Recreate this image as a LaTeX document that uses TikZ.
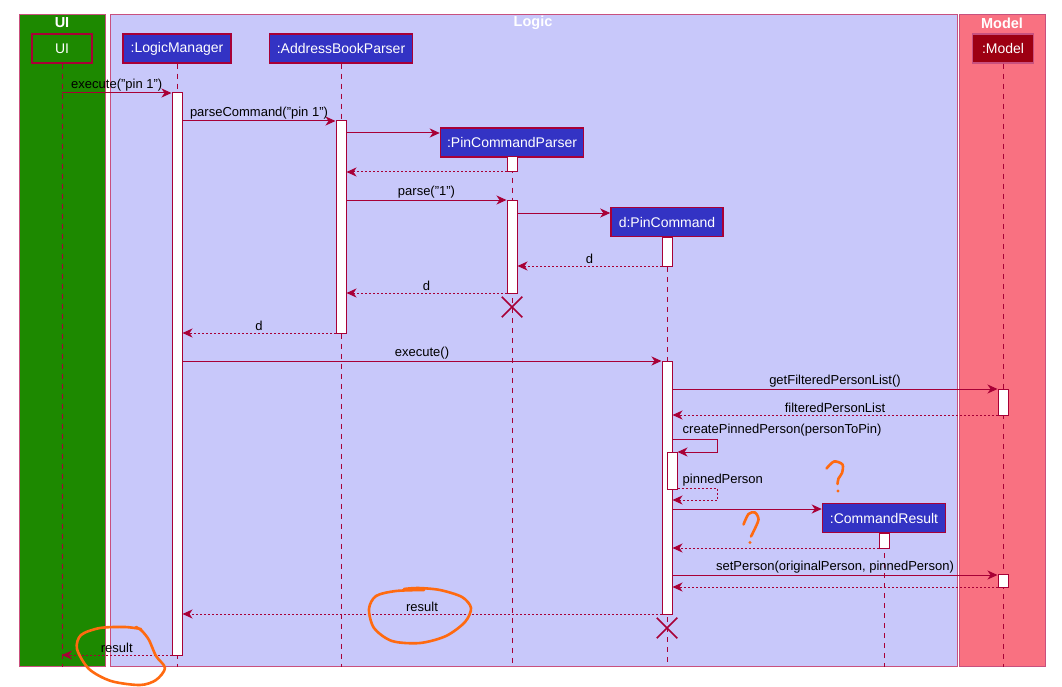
\documentclass[tikz,border=0pt]{standalone}
\usepackage{fontspec}
\setmainfont{Liberation Sans}
\usetikzlibrary{arrows.meta,shapes.misc}
\definecolor{arr}{HTML}{A80036}
\definecolor{uigreen}{HTML}{1D8900}
\definecolor{logicblue}{HTML}{3333C4}
\definecolor{logicbg}{HTML}{C8C8FA}
\definecolor{modeldark}{HTML}{9D0012}
\definecolor{modelbg}{HTML}{F97181}
\definecolor{grpborder}{HTML}{C8507E}
\definecolor{annot}{HTML}{FF6A10}
\begin{document}
\begin{tikzpicture}[x=1pt,y=-1pt,
  grp/.style={draw=grpborder,line width=1pt,inner sep=0pt},
  grptitle/.style={text=white,font=\bfseries\fontsize{14.5}{16}\selectfont,inner sep=0pt},
  part/.style={draw=arr,line width=1.5pt,text=white,font=\fontsize{14}{16}\selectfont,minimum height=29pt,inner sep=0pt},
  life/.style={draw=arr,line width=0.8pt,dash pattern=on 5pt off 5pt},
  act/.style={draw=arr,fill=white,line width=1pt,minimum width=10pt,inner sep=0pt},
  msg/.style={draw=arr,line width=1pt,-{Stealth[length=10pt,width=9pt,inset=3pt]}},
  ret/.style={msg,dash pattern=on 2pt off 2pt},
  lbl/.style={text=black,font=\fontsize{13}{15}\selectfont,inner sep=1.5pt},
  destroy/.style={cross out,draw=arr,line width=1.5pt,minimum size=19pt,inner sep=0pt},
  annotpen/.style={draw=annot,line width=2.6pt,line cap=round,line join=round}
]
\useasboundingbox (0,0) rectangle (1062,687);
\fill[white] (0,0) rectangle (1062,687);

% groups
\node[grp,fill=uigreen,minimum width=86pt,minimum height=651pt] (uiG) at (62,340.5) {};
\node[grp,fill=logicbg,minimum width=847pt,minimum height=651pt] (logicG) at (533.5,340.5) {};
\node[grp,fill=modelbg,minimum width=86pt,minimum height=651pt] (modelG) at (1002,340.5) {};
\node[grptitle] (uiT) at (62,23) {UI};
\node[grptitle] (logicT) at (533,23) {Logic};
\node[grptitle] (modelT) at (1002,23) {Model};

% participants
\node[part,fill=uigreen,minimum width=60pt] (uiP) at (62,48.5) {UI};
\node[part,fill=logicblue,minimum width=108pt] (lmP) at (177,48.5) {:LogicManager};
\node[part,fill=logicblue,minimum width=143pt] (abpP) at (341,48.5) {:AddressBookParser};
\node[part,fill=logicblue,minimum width=143pt] (pcpP) at (512,142.5) {:PinCommandParser};
\node[part,fill=logicblue,minimum width=112pt] (pcP) at (667,222) {d:PinCommand};
\node[part,fill=logicblue,minimum width=123pt] (crP) at (884,518) {:CommandResult};
\node[part,fill=modeldark,draw=grpborder,minimum width=61pt] (mP) at (1003,48.5) {:Model};

% lifelines
\draw[life] (uiP.south) -- (uiP.south |- 0,667);
\draw[life] (lmP.south) -- (lmP.south |- 0,667);
\draw[life] (abpP.south) -- (abpP.south |- 0,667);
\draw[life] (pcpP.south) -- (pcpP.south |- 0,667);
\draw[life] (pcP.south) -- (pcP.south |- 0,667);
\draw[life] (crP.south) -- (crP.south |- 0,667);
\draw[life] (mP.south) -- (mP.south |- 0,667);

% activations
\node[act,minimum height=562pt] (lmA) at (177,374) {};
\node[act,minimum height=212pt] (abpA) at (341,227) {};
\node[act,minimum height=15pt] (pcpA1) at (512,164.5) {};
\node[act,minimum height=93pt] (pcpA2) at (512,246.5) {};
\node[act,minimum height=29pt] (pcA1) at (667,251.5) {};
\node[act,minimum height=253pt] (pcA2) at (667,487.5) {};
\node[act,minimum height=37pt] (pcA3) at (672,470.5) {};
\node[act,minimum height=15pt] (crA) at (884,540.5) {};
\node[act,minimum height=26pt] (mA1) at (1003,402) {};
\node[act,minimum height=13pt] (mA2) at (1003,580.5) {};

% destroy marks
\node[destroy] (pcpX) at (512,307) {};
\node[destroy] (pcX) at (667,628) {};

% messages
\draw[msg] (uiP |- 0,93) -- node[lbl,above] {execute("pin 1")} (lmA.west |- 0,93);
\draw[msg] (lmA.east |- 0,121) -- node[lbl,above] {parseCommand("pin 1")} (abpA.west |- 0,121);
\draw[msg] (abpA.east |- 0,133) -- (pcpP.west |- 0,133);
\draw[ret] (pcpA1.west |- 0,172) -- (abpA.east |- 0,172);
\draw[msg] (abpA.east |- 0,200) -- node[lbl,above] {parse("1")} (pcpA2.west |- 0,200);
\draw[msg] (pcpA2.east |- 0,213) -- (pcP.west |- 0,213);
\draw[ret] (pcA1.west |- 0,266) -- node[lbl,above] {d} (pcpA2.east |- 0,266);
\draw[ret] (pcpA2.west |- 0,293) -- node[lbl,above] {d} (abpA.east |- 0,293);
\draw[ret] (abpA.west |- 0,333) -- node[lbl,above] {d} (lmA.east |- 0,333);
\draw[msg] (lmA.east |- 0,361) -- node[lbl,above] {execute()} (pcA2.west |- 0,361);
\draw[msg] (pcA2.east |- 0,389) -- node[lbl,above] {getFilteredPersonList()} (mA1.west |- 0,389);
\draw[ret] (mA1.west |- 0,415) -- node[lbl,above] {filteredPersonList} (pcA2.east |- 0,415);
\draw[msg] (pcA2.east |- 0,439) -- (717,439) -- (717,452) -- (pcA3.east |- 0,452);
\node[lbl,anchor=west] (cppL) at (681,430) {createPinnedPerson(personToPin)};
\draw[ret] (pcA3.east |- 0,488) -- (717,488) -- (717,500) -- (pcA2.east |- 0,500);
\node[lbl,anchor=west] (ppL) at (681,480) {pinnedPerson};
\draw[msg] (pcA2.east |- 0,509) -- (crP.west |- 0,509);
\draw[ret] (crA.west |- 0,548) -- (pcA2.east |- 0,548);
\draw[msg] (pcA2.east |- 0,575) -- node[lbl,above] {setPerson(originalPerson, pinnedPerson)} (mA2.west |- 0,575);
\draw[ret] (mA2.west |- 0,587) -- (pcA2.east |- 0,587);
\draw[ret] (pcA2.west |- 0,614) -- node[lbl,above] {result} (lmA.east |- 0,614);
\draw[ret] (lmA.west |- 0,655) -- node[lbl,above] {result} (uiP |- 0,655);

% hand-drawn annotations
\draw[annotpen] plot[smooth] coordinates {(404,589) (418,588) (440,590) (462,597) (471,608) (465,622) (446,636) (420,643) (392,641) (374,628) (369,609) (376,596) (396,591) (424,590)};
\draw[annotpen] plot[smooth] coordinates {(136,627) (142,631) (149,640) (156,656) (165,668) (156,680) (140,685) (111,681) (89,669) (77,649) (81,635) (100,628) (125,627) (141,629)};
\draw[annotpen] plot[smooth] coordinates {(826.5,468.5) (834,461.5) (842.5,464.5) (842,473) (838.5,478.5) (837.5,484)};
\fill[annot] (838,491) circle (1.7pt);
\draw[annotpen] plot[smooth] coordinates {(743.5,524.5) (748.5,514) (755,512.5) (758.5,519.5) (754,530.5) (751,536.5)};
\fill[annot] (750,542.5) circle (1.7pt);
\end{tikzpicture}
\end{document}
